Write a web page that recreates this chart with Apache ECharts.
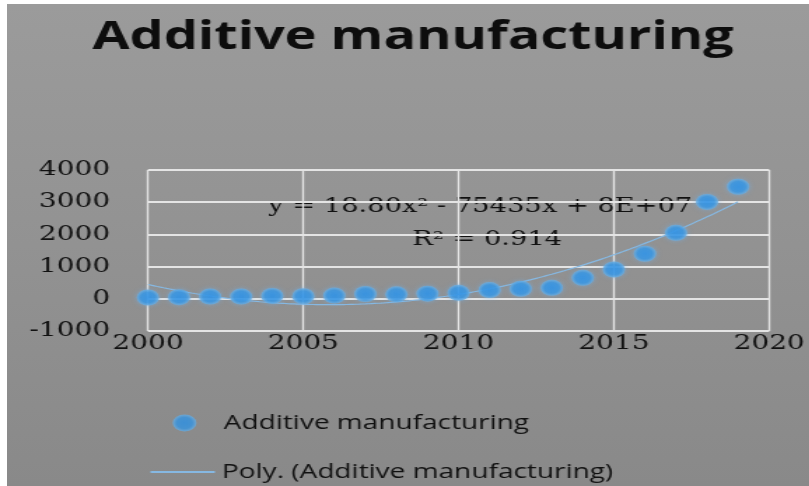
<!DOCTYPE html>
<html>
<head>
<meta charset="utf-8">
<script src="https://cdn.jsdelivr.net/npm/echarts@6/dist/echarts.min.js"></script>
<style>
  html, body { margin: 0; padding: 0; background: #ffffff; width: 809px; height: 486px; overflow: hidden; }
  #frame { position: absolute; left: 7px; top: 4px; width: 802px; height: 482px;
           background: linear-gradient(#9b9b9b, #898989); overflow: hidden; }
  /* the chart is laid out narrow and widened horizontally */
  #chart { position: absolute; left: 0; top: 0; width: 573px; height: 482px;
           transform: scaleX(1.4); transform-origin: 0 0; }
</style>
</head>
<body>
<div id="frame"><div id="chart"></div></div>
<script>
// Yearly values
const years  = [2000, 2001, 2002, 2003, 2004, 2005, 2006, 2007, 2008, 2009,
                2010, 2011, 2012, 2013, 2014, 2015, 2016, 2017, 2018, 2019];
const values = [40, 50, 70, 70, 90, 80, 100, 150, 140, 160,
                185, 270, 310, 340, 650, 910, 1400, 2050, 3010, 3480];

// Axis tick labels
const xTicks = [2000, 2005, 2010, 2015, 2020];
const yTicks = [-1000, 0, 1000, 2000, 3000, 4000];

// Texts
const titleText  = 'Additive manufacturing';
const seriesName = 'Additive manufacturing';
const trendName  = 'Poly. (Additive manufacturing)';
const equationText = 'y = 18.80x\u00B2 - 75435x + 8E+07';
const r2Text       = 'R\u00B2 = 0.914';

// Least-squares quadratic fit (years shifted to keep the sums well-conditioned)
function quadFit(xs, ys, x0) {
  let S = [0, 0, 0, 0, 0], T = [0, 0, 0];
  for (let i = 0; i < xs.length; i++) {
    const t = xs[i] - x0;
    let p = 1;
    for (let k = 0; k < 5; k++) { S[k] += p; if (k < 3) T[k] += p * ys[i]; p *= t; }
  }
  const M = [[S[0], S[1], S[2], T[0]], [S[1], S[2], S[3], T[1]], [S[2], S[3], S[4], T[2]]];
  for (let c = 0; c < 3; c++) {
    for (let r = c + 1; r < 3; r++) {
      const f = M[r][c] / M[c][c];
      for (let k = c; k < 4; k++) M[r][k] -= f * M[c][k];
    }
  }
  const coef = [0, 0, 0];
  for (let r = 2; r >= 0; r--) {
    let s = M[r][3];
    for (let k = r + 1; k < 3; k++) s -= M[r][k] * coef[k];
    coef[r] = s / M[r][r];
  }
  return coef; // c0 + c1*t + c2*t^2
}
const x0 = years[0];
const coef = quadFit(years, values, x0);
const trend = [];
for (let x = years[0]; x <= years[years.length - 1] + 1e-9; x += 0.1) {
  const t = x - x0;
  trend.push([x, coef[0] + coef[1] * t + coef[2] * t * t]);
}

const serif = 'DejaVu Serif';
const sans = 'Open Sans';
const plain = v => String(v);
const trendColor = '#86b8e2';

const legendText = { fontFamily: sans, fontSize: 20, color: '#111' };

const chart = echarts.init(document.getElementById('chart'), null, { renderer: 'canvas' });
chart.setOption({
  backgroundColor: 'transparent',
  animation: false,
  title: {
    text: titleText,
    left: 285,
    textAlign: 'center',
    top: 10,
    textStyle: { fontFamily: sans, fontWeight: 'bold', fontSize: 38.5, color: '#0d0d0d' }
  },
  grid: { left: 100.7, right: 28.6, top: 166, bottom: 155, containLabel: false },
  xAxis: {
    type: 'value',
    min: xTicks[0], max: xTicks[xTicks.length - 1], interval: xTicks[1] - xTicks[0],
    axisLine: { show: false }, axisTick: { show: false },
    axisLabel: { margin: 3, fontFamily: serif, fontSize: 20, color: '#111', formatter: plain,
                 showMinLabel: true, showMaxLabel: true },
    splitLine: { show: true, lineStyle: { color: '#e4e4e4', width: 1.4 } }
  },
  yAxis: {
    type: 'value',
    min: yTicks[0], max: yTicks[yTicks.length - 1], interval: yTicks[1] - yTicks[0],
    axisLine: { show: false }, axisTick: { show: false },
    axisLabel: { margin: 27, fontFamily: serif, fontSize: 20, color: '#111', formatter: plain },
    splitLine: { show: true, lineStyle: { color: '#e4e4e4', width: 2 } }
  },
  legend: [
    { left: 113.3, top: 404, itemWidth: 46, itemHeight: 17, textStyle: legendText,
      data: [{ name: seriesName, icon: 'circle' }] },
    { left: 97.5, top: 453, itemWidth: 46, itemHeight: 2, textStyle: legendText,
      itemStyle: { color: trendColor },
      data: [{ name: trendName, icon: 'rect' }] }
  ],
  graphic: [
    { type: 'text', x: 338, y: 203, silent: true,
      style: { text: equationText, font: '19.5px "DejaVu Serif"', fill: '#111', textAlign: 'center', textVerticalAlign: 'middle' } },
    { type: 'text', x: 343, y: 236, silent: true,
      style: { text: r2Text, font: '19.5px "DejaVu Serif"', fill: '#111', textAlign: 'center', textVerticalAlign: 'middle' } }
  ],
  series: [
    {
      name: trendName,
      type: 'line',
      data: trend,
      symbol: 'none',
      smooth: false,
      lineStyle: { color: trendColor, width: 1.2 },
      itemStyle: { color: trendColor },
      z: 2
    },
    {
      name: seriesName,
      type: 'scatter',
      data: years.map((y, i) => [y, values[i]]),
      symbol: 'circle',
      symbolSize: 16,
      itemStyle: {
        color: {
          type: 'radial', x: 0.5, y: 0.5, r: 0.5,
          colorStops: [
            { offset: 0, color: '#2a90e6' },
            { offset: 0.65, color: '#3494e2' },
            { offset: 1, color: '#6aaee2' }
          ]
        },
        shadowBlur: 4, shadowColor: 'rgba(110,175,235,0.7)'
      },
      z: 3
    }
  ]
});
</script>
</body>
</html>
